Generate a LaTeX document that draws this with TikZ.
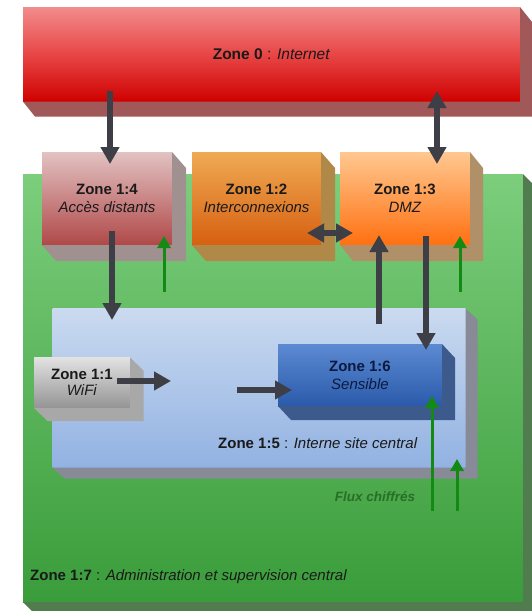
\documentclass[tikz,border=0pt]{standalone}
\usepackage{fontspec}
\setmainfont{Liberation Sans}
\usetikzlibrary{arrows.meta,calc}
\definecolor{arrgray}{HTML}{3E3E46}
\definecolor{arrgreen}{HTML}{138A13}
\definecolor{txtdark}{HTML}{1A1A1A}
\definecolor{zAtop}{HTML}{F28C8C}\definecolor{zAmid}{HTML}{E84646}\definecolor{zAbot}{HTML}{D00000}\definecolor{zAsh}{HTML}{A05858}
\definecolor{zGtop}{HTML}{7CCE7C}\definecolor{zGbot}{HTML}{3A9C3A}\definecolor{zGsh}{HTML}{507C50}
\definecolor{zDtop}{HTML}{E2C2C2}\definecolor{zDbot}{HTML}{B04848}\definecolor{zDsh}{HTML}{A09090}
\definecolor{zBtop}{HTML}{F0AA54}\definecolor{zBbot}{HTML}{D66010}\definecolor{zBsh}{HTML}{B08848}
\definecolor{zCtop}{HTML}{FFC890}\definecolor{zCbot}{HTML}{FF7010}\definecolor{zCsh}{HTML}{B09068}
\definecolor{zEtop}{HTML}{CADAF0}\definecolor{zEbot}{HTML}{92B2E2}\definecolor{zEsh}{HTML}{888A98}
\definecolor{zFtop}{HTML}{E2E2E2}\definecolor{zFbot}{HTML}{949494}\definecolor{zFsh}{HTML}{A8A8A8}
\definecolor{zHtop}{HTML}{5C8AD2}\definecolor{zHbot}{HTML}{2A5AAA}\definecolor{zHsh}{HTML}{3C5A8C}\definecolor{zHtxt}{HTML}{0C1A40}
\definecolor{fluxtxt}{HTML}{286E28}
\newcommand\zshade[4]{%
  \fill[#4] (#1.north east) -- ++(#2,#3) -- ($(#1.south east)+(#2,#3)$) -- ($(#1.south west)+(#2,#3)$) -- (#1.south west) -- (#1.south east) -- cycle;}
\begin{document}
\begin{tikzpicture}[x=1pt,y=-1pt,
  zbox/.style={inner sep=0pt, outer sep=0pt, align=center, text=txtdark, font=\fontsize{15}{18.5}\selectfont},
  darr/.style={arrgray, line width=5.5pt, -{Triangle[length=17pt,width=18pt]}},
  ddarr/.style={arrgray, line width=5.5pt, {Triangle[length=17pt,width=18pt]}-{Triangle[length=17pt,width=18pt]}},
  garr/.style={arrgreen, line width=3pt, -{Triangle[length=12pt,width=13pt]}},
  lbl/.style={inner sep=0pt, text=txtdark, font=\fontsize{15}{18}\selectfont}]
\useasboundingbox (0,0) rectangle (531,611);
\fill[white] (0,0) rectangle (531,611);

% Zone 0
\node[zbox, minimum width=497pt, minimum height=94.6pt, top color=zAtop, bottom color=zAbot, middle color=zAmid, font=\fontsize{15.5}{18.5}\selectfont] (z0) at (271.5,54.3) {\textbf{Zone 0} : \textit{Internet}};
\zshade{z0}{12}{15}{zAsh}

% Zone 1:7 (green)
\node[zbox, minimum width=500pt, minimum height=428pt, top color=zGtop, bottom color=zGbot] (z7) at (273,388) {};
\zshade{z7}{12}{12}{zGsh}

% Zone 1:4
\node[zbox, minimum width=130pt, minimum height=93pt, top color=zDtop, bottom color=zDbot] (z4) at (107,198.5) {\textbf{Zone 1:4}\\\textit{Accès distants}};
\zshade{z4}{14}{16}{zDsh}

% Zone 1:2
\node[zbox, minimum width=129pt, minimum height=93pt, top color=zBtop, bottom color=zBbot] (z2) at (256.5,198.5) {\textbf{Zone 1:2}\\\textit{Interconnexions}};
\zshade{z2}{14}{16}{zBsh}

% Zone 1:3
\node[zbox, minimum width=130pt, minimum height=93pt, top color=zCtop, bottom color=zCbot] (z3) at (405,198.5) {\textbf{Zone 1:3}\\\textit{DMZ}};
\zshade{z3}{13}{16}{zCsh}

% Zone 1:5
\node[zbox, minimum width=413pt, minimum height=159pt, top color=zEtop, bottom color=zEbot] (z5) at (259,388) {};
\zshade{z5}{12}{11}{zEsh}

% Zone 1:1
\node[zbox, minimum width=96pt, minimum height=50.5pt, top color=zFtop, bottom color=zFbot, font=\fontsize{15}{16}\selectfont] (z1) at (82,382.75) {\textbf{Zone 1:1}\\\textit{WiFi}};
\zshade{z1}{13.5}{13}{zFsh}

% Zone 1:6
\node[zbox, minimum width=164pt, minimum height=62pt, top color=zHtop, bottom color=zHbot, text=zHtxt, font=\fontsize{15}{18}\selectfont] (z6) at (360,375) {\textbf{Zone 1:6}\\\textit{Sensible}};
\zshade{z6}{13}{14}{zHsh}

% labels
\node[lbl, anchor=west] (l5) at (218,443) {\textbf{Zone 1:5} : \textit{Interne site central}};
\node[lbl, anchor=west] (l7) at (30,577) {\textbf{Zone 1:7} : \textit{Administration et supervision central}};
\node[lbl, text=fluxtxt, font=\fontsize{13.5}{16}\selectfont] (lf) at (375,497) {\textbf{\textit{Flux chiffrés}}};

% arrow end points
\coordinate (a1s) at (110,91);   \coordinate (a1e) at (110,164);
\coordinate (a2s) at (437,91);   \coordinate (a2e) at (437,164);
\coordinate (a3s) at (112,231);  \coordinate (a3e) at (112,320);
\coordinate (a4s) at (307,233);  \coordinate (a4e) at (353,233);
\coordinate (a5s) at (379,324);  \coordinate (a5e) at (379,235);
\coordinate (a6s) at (426,236);  \coordinate (a6e) at (426,350);
\coordinate (a7s) at (117,381);  \coordinate (a7e) at (171,381);
\coordinate (a8s) at (237,390);  \coordinate (a8e) at (292,390);
\coordinate (g1s) at (164,292);  \coordinate (g1e) at (164,236);
\coordinate (g2s) at (460,292);  \coordinate (g2e) at (460,236);
\coordinate (g3s) at (432,511);  \coordinate (g3e) at (432,396);
\coordinate (g4s) at (457,511);  \coordinate (g4e) at (457,459);

\draw[darr] (a1s) -- (a1e);
\draw[ddarr] (a2s) -- (a2e);
\draw[darr] (a3s) -- (a3e);
\draw[ddarr] (a4s) -- (a4e);
\draw[darr] (a5s) -- (a5e);
\draw[darr] (a6s) -- (a6e);
\draw[darr] (a7s) -- (a7e);
\draw[darr] (a8s) -- (a8e);
\draw[garr] (g1s) -- (g1e);
\draw[garr] (g2s) -- (g2e);
\draw[garr] (g3s) -- (g3e);
\draw[garr] (g4s) -- (g4e);
\end{tikzpicture}
\end{document}
